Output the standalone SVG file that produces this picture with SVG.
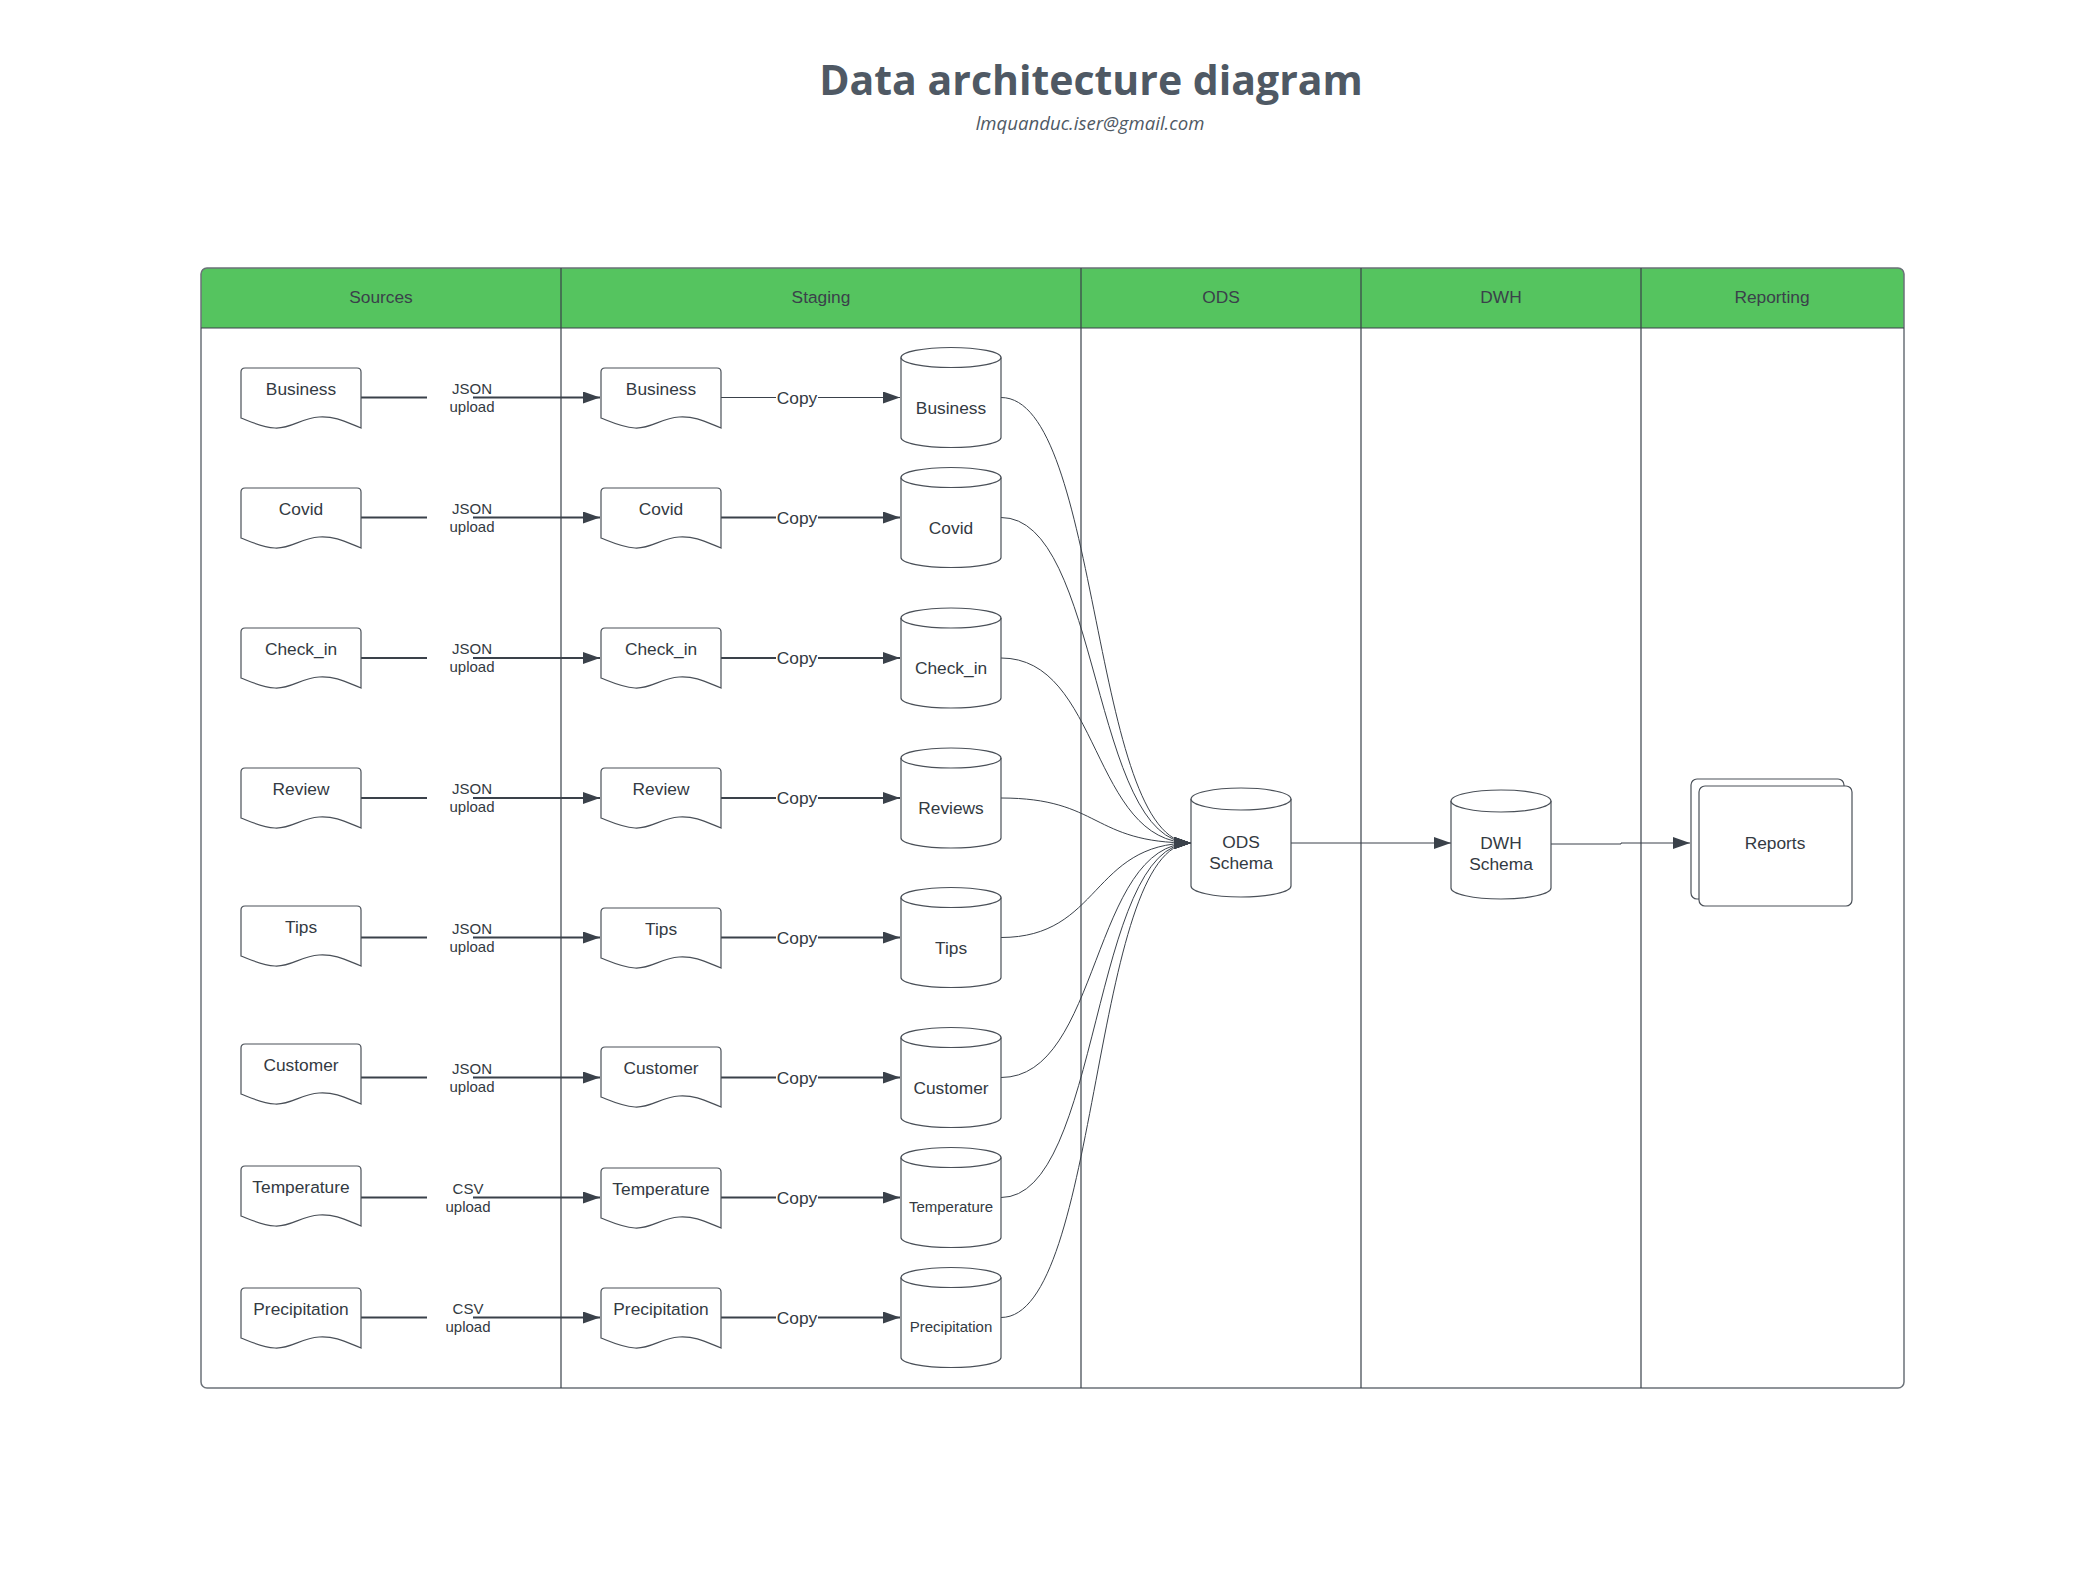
<svg xmlns="http://www.w3.org/2000/svg" xmlns:xlink="http://www.w3.org/1999/xlink" width="2089" height="1571" viewBox="0 0 2089 1571">
<style>
.title{font-family:"Open Sans","Liberation Sans",sans-serif;font-weight:700;font-size:41px;fill:#4f5964;text-anchor:middle}
.sub{font-family:"Open Sans","Liberation Sans",sans-serif;font-style:italic;font-size:18.6px;fill:#4f5964;text-anchor:middle}
.hdr{font-family:"Liberation Sans",Arial,sans-serif;font-size:17.33px;fill:#3a414a;text-anchor:middle}
.lbl{font-family:"Liberation Sans",Arial,sans-serif;font-size:17.33px;fill:#333a42;text-anchor:middle}
.sm{font-family:"Liberation Sans",Arial,sans-serif;font-size:15px;fill:#333a42;text-anchor:middle}
.shape{fill:#fff;stroke:#4a5058;stroke-width:1.2}
.div{stroke:#3a414a;stroke-width:1.2;fill:none}
.c1{stroke:#3a414a;stroke-width:1;fill:none}
.c2{stroke:#3a414a;stroke-width:2;fill:none}
.ca{marker-end:url(#arr)}
</style>
<defs>
<marker id="arr" markerUnits="userSpaceOnUse" markerWidth="18" markerHeight="12" refX="17" refY="6" orient="auto">
<path d="M0,0 L17,6 L0,12 Z" fill="#3a414a"/>
</marker>
<path id="doc" d="M0,4 Q0,0 4,0 H116 Q120,0 120,4 V60 C105,54 95,48 78,49 C60,50 50,61 34,60 C20,59 8,53 0,50 Z"/>
<g id="cyl">
<path d="M0,10 A50,10 0 0 1 100,10 V90 A50,10 0 0 1 0,90 Z"/>
<path d="M0,10 A50,10 0 0 0 100,10" fill="none"/>
</g>
</defs>
<rect width="2089" height="1571" fill="#fff"/>
<text class="title" x="1091" y="95">Data architecture diagram</text>
<text class="sub" x="1090" y="130">lmquanduc.iser@gmail.com</text>

<g id="swimlanes">
<path d="M201,328 V274 Q201,268 207,268 H1898 Q1904,268 1904,274 V328 Z" fill="#55c45f"/>
<rect x="201" y="268" width="1703" height="1120" rx="6" fill="none" stroke="#6b7178" stroke-width="1.5"/>
<path class="div" d="M201,328 H1904 M561,268 V1388 M1081,268 V1388 M1361,268 V1388 M1641,268 V1388"/>
<text class="hdr" x="381" y="303">Sources</text>
<text class="hdr" x="821" y="303">Staging</text>
<text class="hdr" x="1221" y="303">ODS</text>
<text class="hdr" x="1501" y="303">DWH</text>
<text class="hdr" x="1772" y="303">Reporting</text>
</g>

<g id="connectors">
<path class="c2" d="M361,397.5 H427"/><path class="c2 ca" d="M473,397.5 H600"/>
<path class="c2" d="M361,517.5 H427"/><path class="c2 ca" d="M473,517.5 H600"/>
<path class="c2" d="M361,658 H427"/><path class="c2 ca" d="M473,658 H600"/>
<path class="c2" d="M361,798 H427"/><path class="c2 ca" d="M473,798 H600"/>
<path class="c2" d="M361,937.5 H427"/><path class="c2 ca" d="M473,937.5 H600"/>
<path class="c2" d="M361,1077.5 H427"/><path class="c2 ca" d="M473,1077.5 H600"/>
<path class="c2" d="M361,1197.5 H427"/><path class="c2 ca" d="M473,1197.5 H600"/>
<path class="c2" d="M361,1317.5 H427"/><path class="c2 ca" d="M473,1317.5 H600"/>
<g class="sm">
<text x="472" y="393.5">JSON</text><text x="472" y="411.5">upload</text>
<text x="472" y="513.5">JSON</text><text x="472" y="531.5">upload</text>
<text x="472" y="654">JSON</text><text x="472" y="672">upload</text>
<text x="472" y="794">JSON</text><text x="472" y="812">upload</text>
<text x="472" y="933.5">JSON</text><text x="472" y="951.5">upload</text>
<text x="472" y="1073.5">JSON</text><text x="472" y="1091.5">upload</text>
<text x="468" y="1193.5">CSV</text><text x="468" y="1211.5">upload</text>
<text x="468" y="1313.5">CSV</text><text x="468" y="1331.5">upload</text>
</g>
<path class="c1 ca" d="M721,397.5 H776 M818,397.5 H900"/>
<path class="c2 ca" d="M721,517.5 H776 M818,517.5 H900"/>
<path class="c2 ca" d="M721,658 H776 M818,658 H900"/>
<path class="c2 ca" d="M721,798 H776 M818,798 H900"/>
<path class="c2 ca" d="M721,937.5 H776 M818,937.5 H900"/>
<path class="c2 ca" d="M721,1077.5 H776 M818,1077.5 H900"/>
<path class="c2 ca" d="M721,1197.5 H776 M818,1197.5 H900"/>
<path class="c2 ca" d="M721,1317.5 H776 M818,1317.5 H900"/>
<g class="lbl">
<text x="797" y="403.5">Copy</text>
<text x="797" y="523.5">Copy</text>
<text x="797" y="664">Copy</text>
<text x="797" y="804">Copy</text>
<text x="797" y="943.5">Copy</text>
<text x="797" y="1083.5">Copy</text>
<text x="797" y="1203.5">Copy</text>
<text x="797" y="1323.5">Copy</text>
</g>
<path class="c1 ca" d="M1001,397.5 C1101,397.5 1091,843 1191,843"/>
<path class="c1 ca" d="M1001,517.5 C1101,517.5 1091,843 1191,843"/>
<path class="c1 ca" d="M1001,658 C1101,658 1091,843 1191,843"/>
<path class="c1 ca" d="M1001,798 C1101,798 1091,843 1191,843"/>
<path class="c1 ca" d="M1001,937.5 C1101,937.5 1091,843 1191,843"/>
<path class="c1 ca" d="M1001,1077.5 C1101,1077.5 1091,843 1191,843"/>
<path class="c1 ca" d="M1001,1197.5 C1101,1197.5 1091,843 1191,843"/>
<path class="c1 ca" d="M1001,1317.5 C1101,1317.5 1091,843 1191,843"/>
<path class="c1 ca" stroke-width="1.5" d="M1291,843 H1451"/>
<path class="c1 ca" stroke-width="1.5" d="M1551,844 H1621 V843 H1690"/>
</g>

<g id="src-business"><use href="#doc" class="shape" x="241" y="368"/><text class="lbl" x="301" y="395">Business</text></g>
<g id="src-covid"><use href="#doc" class="shape" x="241" y="488"/><text class="lbl" x="301" y="515">Covid</text></g>
<g id="src-checkin"><use href="#doc" class="shape" x="241" y="628"/><text class="lbl" x="301" y="655">Check_in</text></g>
<g id="src-review"><use href="#doc" class="shape" x="241" y="768"/><text class="lbl" x="301" y="795">Review</text></g>
<g id="src-tips"><use href="#doc" class="shape" x="241" y="906"/><text class="lbl" x="301" y="933">Tips</text></g>
<g id="src-customer"><use href="#doc" class="shape" x="241" y="1044"/><text class="lbl" x="301" y="1071">Customer</text></g>
<g id="src-temperature"><use href="#doc" class="shape" x="241" y="1166"/><text class="lbl" x="301" y="1193">Temperature</text></g>
<g id="src-precipitation"><use href="#doc" class="shape" x="241" y="1288"/><text class="lbl" x="301" y="1315">Precipitation</text></g>

<g id="stg-business"><use href="#doc" class="shape" x="601" y="368"/><text class="lbl" x="661" y="395">Business</text></g>
<g id="stg-covid"><use href="#doc" class="shape" x="601" y="488"/><text class="lbl" x="661" y="515">Covid</text></g>
<g id="stg-checkin"><use href="#doc" class="shape" x="601" y="628"/><text class="lbl" x="661" y="655">Check_in</text></g>
<g id="stg-review"><use href="#doc" class="shape" x="601" y="768"/><text class="lbl" x="661" y="795">Review</text></g>
<g id="stg-tips"><use href="#doc" class="shape" x="601" y="908"/><text class="lbl" x="661" y="935">Tips</text></g>
<g id="stg-customer"><use href="#doc" class="shape" x="601" y="1047"/><text class="lbl" x="661" y="1074">Customer</text></g>
<g id="stg-temperature"><use href="#doc" class="shape" x="601" y="1168"/><text class="lbl" x="661" y="1195">Temperature</text></g>
<g id="stg-precipitation"><use href="#doc" class="shape" x="601" y="1288"/><text class="lbl" x="661" y="1315">Precipitation</text></g>

<g id="db-business"><use href="#cyl" class="shape" x="901" y="347.5"/><text class="lbl" x="951" y="413.5">Business</text></g>
<g id="db-covid"><use href="#cyl" class="shape" x="901" y="467.5"/><text class="lbl" x="951" y="533.5">Covid</text></g>
<g id="db-checkin"><use href="#cyl" class="shape" x="901" y="608"/><text class="lbl" x="951" y="674">Check_in</text></g>
<g id="db-reviews"><use href="#cyl" class="shape" x="901" y="748"/><text class="lbl" x="951" y="814">Reviews</text></g>
<g id="db-tips"><use href="#cyl" class="shape" x="901" y="887.5"/><text class="lbl" x="951" y="953.5">Tips</text></g>
<g id="db-customer"><use href="#cyl" class="shape" x="901" y="1027.5"/><text class="lbl" x="951" y="1093.5">Customer</text></g>
<g id="db-temperature"><use href="#cyl" class="shape" x="901" y="1147.5"/><text class="sm" x="951" y="1212">Temperature</text></g>
<g id="db-precipitation"><use href="#cyl" class="shape" x="901" y="1267.5"/><text class="sm" x="951" y="1332">Precipitation</text></g>

<g id="ods-schema">
<path class="shape" d="M1191,799 A50,11 0 0 1 1291,799 V886 A50,11 0 0 1 1191,886 Z"/>
<path class="shape" fill="none" d="M1191,799 A50,11 0 0 0 1291,799"/>
<text class="lbl" x="1241" y="848">ODS</text><text class="lbl" x="1241" y="869">Schema</text>
</g>
<g id="dwh-schema">
<path class="shape" d="M1451,801 A50,11 0 0 1 1551,801 V888 A50,11 0 0 1 1451,888 Z"/>
<path class="shape" fill="none" d="M1451,801 A50,11 0 0 0 1551,801"/>
<text class="lbl" x="1501" y="849">DWH</text><text class="lbl" x="1501" y="870">Schema</text>
</g>
<g id="reports">
<rect class="shape" x="1691" y="779" width="153" height="120" rx="6"/>
<rect class="shape" x="1699" y="786" width="153" height="120" rx="6"/>
<text class="lbl" x="1775" y="849">Reports</text>
</g>
</svg>
